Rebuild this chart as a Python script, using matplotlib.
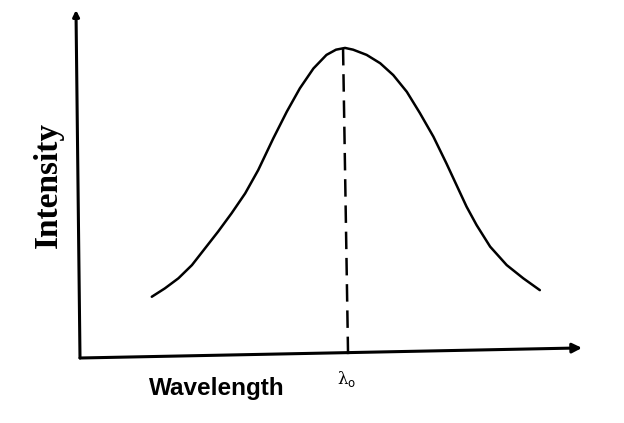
import matplotlib
matplotlib.use('Agg')
import matplotlib.pyplot as plt

# 읽어낸 곡선 점 (파장, 세기) - 임의 단위
wavelength = [14.3, 16.9, 19.6, 22.3, 24.9, 27.5, 30.2, 32.9, 35.5, 38.5,
              41.2, 43.8, 46.5, 49.1, 51.0, 52.8, 54.4, 57.1, 59.8, 62.4,
              65.1, 67.7, 70.4, 73.0, 75.0, 77.0, 79.0, 81.7, 85.0, 88.3, 91.6]
intensity = [17.6, 20.0, 22.9, 26.7, 31.5, 36.3, 41.6, 47.3, 54.0, 63.1,
             70.8, 77.5, 83.2, 87.1, 88.6, 89.1, 88.6, 87.1, 84.7, 81.3,
             76.5, 70.4, 63.6, 55.9, 49.7, 43.5, 38.2, 32.0, 26.7, 22.9, 19.5]

lam0 = 53.0       # 피크 파장
peak = 89.1       # 피크 세기

fig = plt.figure(figsize=(6.24, 4.23), dpi=100)
ax = fig.add_axes([80 / 624, 65 / 423, 502 / 624, 348 / 423])
ax.set_xlim(0, 100)
ax.set_ylim(0, 100)
ax.axis('off')

# 축 화살표 (스캔 원본처럼 살짝 기울어짐)
arrow = dict(arrowstyle='-|>', lw=2.2, color='black', mutation_scale=14,
             shrinkA=0, shrinkB=0)
ax.annotate('', xy=(1.0, 0.029), xytext=(0, 0), xycoords='axes fraction',
            arrowprops=arrow, annotation_clip=False)
ax.annotate('', xy=(-0.008, 1.0), xytext=(0, 0), xycoords='axes fraction',
            arrowprops=dict(arrow, mutation_scale=9), annotation_clip=False)

# 곡선
ax.plot(wavelength, intensity, color='black', lw=1.8, solid_capstyle='round',
        solid_joinstyle='round')

# 피크 점선
ax.plot([lam0 - 0.6, lam0 + 0.4], [peak, 0.8], color='black', lw=1.8,
        linestyle=(0, (7, 3.5)))

ax.text(lam0 + 0.1, -6, r'λ$_\mathrm{o}$', ha='center', va='center',
        fontsize=12, family='DejaVu Serif', clip_on=False)

fig.text(48 / 624, 1 - 185 / 423, 'Intensity', rotation=90, ha='center',
         va='center', fontsize=24, fontweight='bold', family='Liberation Serif')
fig.text(217 / 624, 1 - 388 / 423, 'Wavelength', ha='center', va='center',
         fontsize=17.5, fontweight='bold', family='Liberation Sans')

fig.savefig('out.png', dpi=100, facecolor='white')
